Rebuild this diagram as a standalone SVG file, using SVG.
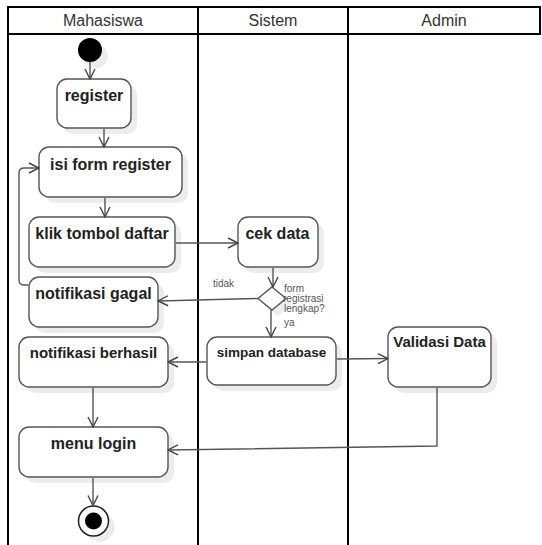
<svg xmlns="http://www.w3.org/2000/svg" width="542" height="545" viewBox="0 0 542 545">
<style>
.lane{stroke:#000;stroke-width:2;fill:none}
.hdr{font-family:"Liberation Sans",Arial,sans-serif;font-size:16px;fill:#333;text-anchor:middle}
.box{fill:#fff;stroke:#555;stroke-width:1.4}
.sh{fill:#ececec;stroke:none}
.lbl{font-family:"Liberation Sans",Arial,sans-serif;font-weight:bold;fill:#222;text-anchor:middle}
.small{font-family:"Liberation Sans",Arial,sans-serif;font-size:10px;fill:#555}
.con{fill:none;stroke:#555;stroke-width:1.4}
</style>
<defs>
<marker id="arr" viewBox="0 0 12 12" refX="11" refY="6" markerWidth="12" markerHeight="12" markerUnits="userSpaceOnUse" orient="auto">
<path d="M1,1 L11,6 L1,11" fill="none" stroke="#444" stroke-width="1.4"/>
</marker>
</defs>
<rect width="542" height="545" fill="#fff"/>
<g id="swimlanes">
<line class="lane" x1="8" y1="7" x2="540" y2="7"/>
<line class="lane" x1="8" y1="34" x2="540" y2="34"/>
<line class="lane" x1="8" y1="6" x2="8" y2="545"/>
<line class="lane" x1="198" y1="6" x2="198" y2="545"/>
<line class="lane" x1="348" y1="6" x2="348" y2="545"/>
<line class="lane" x1="540" y1="6" x2="540" y2="35"/>
<text class="hdr" x="103" y="26">Mahasiswa</text>
<text class="hdr" x="273" y="26">Sistem</text>
<text class="hdr" x="444" y="26">Admin</text>
</g>
<g id="start">
<circle class="sh" cx="96" cy="56" r="12"/>
<circle cx="90" cy="50" r="12" fill="#000"/>
</g>
<g id="register">
<rect class="sh" x="63" y="85" width="74" height="49" rx="10"/>
<rect class="box" x="57" y="79" width="74" height="49" rx="10"/>
<text class="lbl" x="94" y="101" font-size="16">register</text>
</g>
<g id="isi-form-register">
<rect class="sh" x="45" y="153" width="143" height="50" rx="10"/>
<rect class="box" x="39" y="147" width="143" height="50" rx="10"/>
<text class="lbl" x="110.5" y="169.5" font-size="16">isi form register</text>
</g>
<g id="klik-tombol-daftar">
<rect class="sh" x="35" y="223" width="146" height="50" rx="10"/>
<rect class="box" x="29" y="217" width="146" height="50" rx="10"/>
<text class="lbl" x="102" y="239" font-size="16">klik tombol daftar</text>
</g>
<g id="notifikasi-gagal">
<rect class="sh" x="35" y="283" width="129" height="50" rx="10"/>
<rect class="box" x="29" y="277" width="129" height="50" rx="10"/>
<text class="lbl" x="93.5" y="298.5" font-size="16">notifikasi gagal</text>
</g>
<g id="notifikasi-berhasil">
<rect class="sh" x="25" y="343" width="149" height="50" rx="10"/>
<rect class="box" x="19" y="337" width="149" height="50" rx="10"/>
<text class="lbl" x="93.5" y="358" font-size="15">notifikasi berhasil</text>
</g>
<g id="menu-login">
<rect class="sh" x="25" y="433" width="149" height="50" rx="10"/>
<rect class="box" x="19" y="427" width="149" height="50" rx="10"/>
<text class="lbl" x="93.5" y="448.5" font-size="16">menu login</text>
</g>
<g id="end">
<circle class="sh" cx="99.5" cy="527" r="15"/>
<circle cx="93.5" cy="521" r="15" fill="#fff" stroke="#222" stroke-width="1.5"/>
<circle cx="93.5" cy="521" r="8.5" fill="#000"/>
</g>
<g id="cek-data">
<rect class="sh" x="244" y="223" width="80" height="50" rx="10"/>
<rect class="box" x="238" y="217" width="80" height="50" rx="10"/>
<text class="lbl" x="277.5" y="239" font-size="16">cek data</text>
</g>
<g id="decision">
<polygon class="sh" points="278,293 292,304.5 278,316 264,304.5"/>
<polygon class="box" points="272,287 286,298.5 272,310 258,298.5"/>
<text class="small" x="284" y="291.5">form</text>
<text class="small" x="283" y="301.5">registrasi</text>
<text class="small" x="284" y="311.5">lengkap?</text>
<text class="small" x="213" y="287" font-size="11">tidak</text>
<text class="small" x="284" y="326">ya</text>
</g>
<g id="simpan-database">
<rect class="sh" x="213" y="343" width="129" height="48" rx="10"/>
<rect class="box" x="207" y="337" width="129" height="48" rx="10"/>
<text class="lbl" x="271.5" y="356.5" font-size="13.5">simpan database</text>
</g>
<g id="validasi-data">
<rect class="sh" x="394" y="333" width="103" height="60" rx="10"/>
<rect class="box" x="388" y="327" width="103" height="60" rx="10"/>
<text class="lbl" x="439.5" y="347" font-size="15">Validasi Data</text>
</g>
<g id="connectors">
<line class="con" x1="90" y1="62" x2="90" y2="79" marker-end="url(#arr)"/>
<line class="con" x1="104" y1="128.7" x2="104" y2="147" marker-end="url(#arr)"/>
<line class="con" x1="105" y1="197.7" x2="105" y2="217" marker-end="url(#arr)"/>
<line class="con" x1="175.7" y1="243" x2="238" y2="243" marker-end="url(#arr)"/>
<line class="con" x1="273" y1="267.7" x2="273" y2="287" marker-end="url(#arr)"/>
<line class="con" x1="258" y1="298.5" x2="158" y2="301" marker-end="url(#arr)"/>
<line class="con" x1="271" y1="310" x2="271" y2="337" marker-end="url(#arr)"/>
<line class="con" x1="336.7" y1="359" x2="388" y2="358.5" marker-end="url(#arr)"/>
<line class="con" x1="206.3" y1="362" x2="168" y2="362" marker-end="url(#arr)"/>
<path class="con" d="M28.3,285 L24,285 Q19,285 19,280 L19,173 Q19,168 24,168 L39,168" marker-end="url(#arr)"/>
<line class="con" x1="93" y1="387.7" x2="93" y2="427" marker-end="url(#arr)"/>
<path class="con" d="M437,387.7 L437,446 L168,450" marker-end="url(#arr)"/>
<line class="con" x1="93" y1="477.7" x2="93" y2="505.5" marker-end="url(#arr)"/>
</g>
</svg>
